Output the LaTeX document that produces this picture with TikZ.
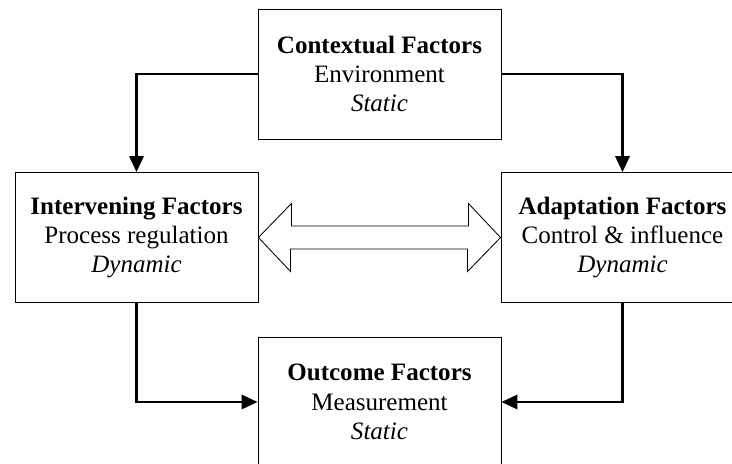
\documentclass[tikz,border=0pt]{standalone}
\usepackage{fontspec}
\setmainfont{Liberation Serif}
\usetikzlibrary{
    arrows.meta,
    positioning,
    calc}

\begin{document}
\begin{tikzpicture}[x=0.025cm,y=-0.025cm,
		factor/.style={draw,line width=0.6pt,rectangle,align=center,inner sep=0pt,
			minimum width=6.075cm,minimum height=3.25cm,
			font=\fontsize{17.8}{20.8}\selectfont},
		flow/.style={line width=1.6pt,-{Triangle[length=4mm,width=3.6mm]}}]
		\useasboundingbox (0,0) rectangle (732,464);
		\node[factor] (ctx) at (379.5,74) {\textbf{Contextual Factors}\\Environment\\\textit{Static}};
		\node[factor] (inter) at (136.5,237.5) {\textbf{Intervening Factors}\\Process regulation\\\textit{Dynamic}};
		\node[factor] (adapt) at (622.5,237.5) {\textbf{Adaptation Factors}\\Control \& influence\\\textit{Dynamic}};
		\node[factor] (outc) at (379.5,402) {\textbf{Outcome Factors}\\Measurement\\\textit{Static}};
		
		% two-way link
		\draw[line width=0.6pt] (inter.east) -- ++(33,-34) -- ++(0,22.5) -- ++(177,0) -- ++(0,-22.5)
			-- (adapt.west) -- ++(-33,34) -- ++(0,-22.5) -- ++(-177,0) -- ++(0,22.5) -- cycle;
		
		\foreach \f/\t in {ctx.west/inter.north,ctx.east/adapt.north}{
			\draw[flow] (\f) -| (\t);
		}
		\foreach \f/\t in {inter.south/outc.west,adapt.south/outc.east}{
			\draw[flow] (\f) |- (\t);
		}
	\end{tikzpicture}
\end{document}
